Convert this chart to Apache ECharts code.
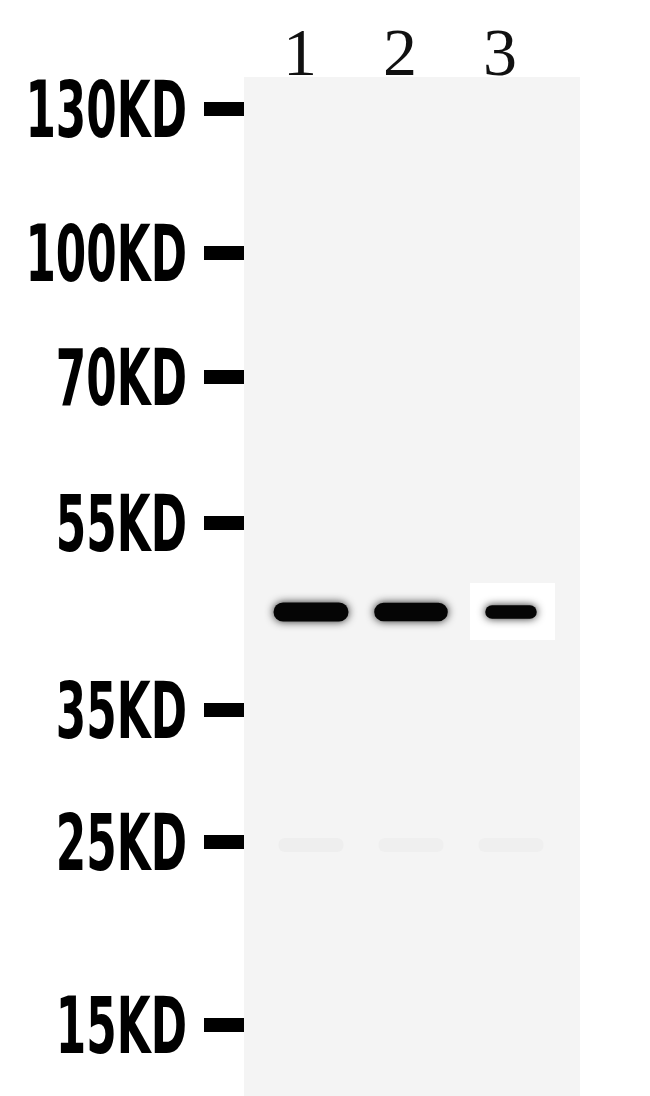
<!DOCTYPE html>
<html>
<head>
<meta charset="utf-8">
<script src="https://cdn.jsdelivr.net/npm/echarts@6/dist/echarts.min.js"></script>
<style>
html, body { margin: 0; padding: 0; background: #fff; }
#blot { width: 650px; height: 1096px; }
</style>
</head>
<body>
<div id="blot"></div>
<script>
// lanes of the blot
var lanes = ['1', '2', '3'];
// molecular weight marker, KD, and its migration (px from top of membrane)
var markerKD = [130, 100, 70, 55, 35, 25, 15];
var markerMigration = [32, 176, 300, 446, 633, 765, 948];
// main band in each lane
var bandLane = [1, 2, 3];
var bandMigration = [535, 535, 535];
var bandIntensity = [1.0, 0.97, 0.5];
// very faint background smudges near 25KD
var faintLane = [1, 2, 3];
var faintMigration = [768, 768, 768];
var faintIntensity = [0.022, 0.02, 0.018];
// lane 3 was spliced in on a white patch
var splicedLane = 3;

var chart = echarts.init(document.getElementById('blot'));

var bands = [];
for (var i = 0; i < bandLane.length; i++) {
    bands.push([bandLane[i], bandMigration[i], bandIntensity[i]]);
}
var faint = [];
for (var j = 0; j < faintLane.length; j++) {
    faint.push([faintLane[j], faintMigration[j], faintIntensity[j]]);
}
var spliceIdx = bandLane.indexOf(splicedLane);

function renderBand(params, api) {
    var c = api.coord([api.value(0), api.value(1)]);
    var k = api.value(2);
    var w = api.size([0.28 + 0.47 * k, 0])[0];
    var h = 8 + 11 * k;
    return {
        type: 'rect',
        shape: {x: c[0] - w / 2, y: c[1] - h / 2, width: w, height: h, r: h / 2},
        style: {fill: '#050505', shadowBlur: 8, shadowColor: 'rgba(0,0,0,0.85)'}
    };
}

function renderFaint(params, api) {
    var c = api.coord([api.value(0), api.value(1)]);
    var w = api.size([0.65, 0])[0];
    var h = 14;
    return {
        type: 'rect',
        shape: {x: c[0] - w / 2, y: c[1] - h / 2, width: w, height: h, r: 6},
        style: {fill: 'rgba(0,0,0,' + api.value(2) + ')', shadowBlur: 8, shadowColor: 'rgba(0,0,0,0.03)'}
    };
}

option = {
    backgroundColor: '#fff',
    animation: false,
    grid: {
        left: 244,
        right: 70,
        top: 77,
        bottom: 0,
        show: true,
        backgroundColor: '#f4f4f4',
        borderWidth: 0
    },
    xAxis: {
        type: 'value',
        position: 'top',
        min: 0.33,
        max: 3.69,
        splitLine: {show: false},
        axisLine: {show: false},
        axisTick: {show: false},
        axisLabel: {
            customValues: bandLane,
            formatter: function (v) {
                return lanes[Math.round(v) - 1];
            },
            fontFamily: '"Liberation Serif", "DejaVu Serif", serif',
            fontSize: 68,
            color: '#111',
            margin: -14,
            padding: [0, 22, 0, 0]
        }
    },
    yAxis: {
        type: 'value',
        inverse: true,
        min: 0,
        max: 1019,
        splitLine: {show: false},
        axisLine: {show: false},
        axisTick: {
            show: true,
            customValues: markerMigration,
            length: 40,
            lineStyle: {color: '#000', width: 14}
        },
        axisLabel: {show: false, customValues: markerMigration}
    },
    series: [
        {
            type: 'custom',
            name: 'background',
            z: 1,
            renderItem: renderFaint,
            encode: {x: 0, y: 1},
            data: faint,
            markArea: {
                silent: true,
                itemStyle: {color: '#fff'},
                data: [[
                    {xAxis: splicedLane - 0.41, yAxis: bandMigration[spliceIdx] - 29},
                    {xAxis: splicedLane + 0.44, yAxis: bandMigration[spliceIdx] + 28}
                ]]
            }
        },
        {
            type: 'custom',
            name: 'band',
            z: 5,
            renderItem: renderBand,
            encode: {x: 0, y: 1},
            data: bands
        }
    ]
};
chart.setOption(option);

// marker names: narrow and stretched tall like the scanned labels,
// sitting a little below the middle of each dash
var labels = [];
for (var m = 0; m < markerKD.length; m++) {
    var py = chart.convertToPixel({yAxisIndex: 0}, markerMigration[m]);
    labels.push({
        type: 'text',
        x: 187,
        y: py + 8,
        scaleX: 0.76,
        scaleY: 1.22,
        z: 10,
        style: {
            text: markerKD[m] + 'KD',
            font: 'bold 64px "DejaVu Sans Condensed", "Liberation Sans Narrow", sans-serif',
            fill: '#000',
            align: 'right',
            verticalAlign: 'middle'
        }
    });
}
chart.setOption({graphic: labels});
</script>
</body>
</html>
